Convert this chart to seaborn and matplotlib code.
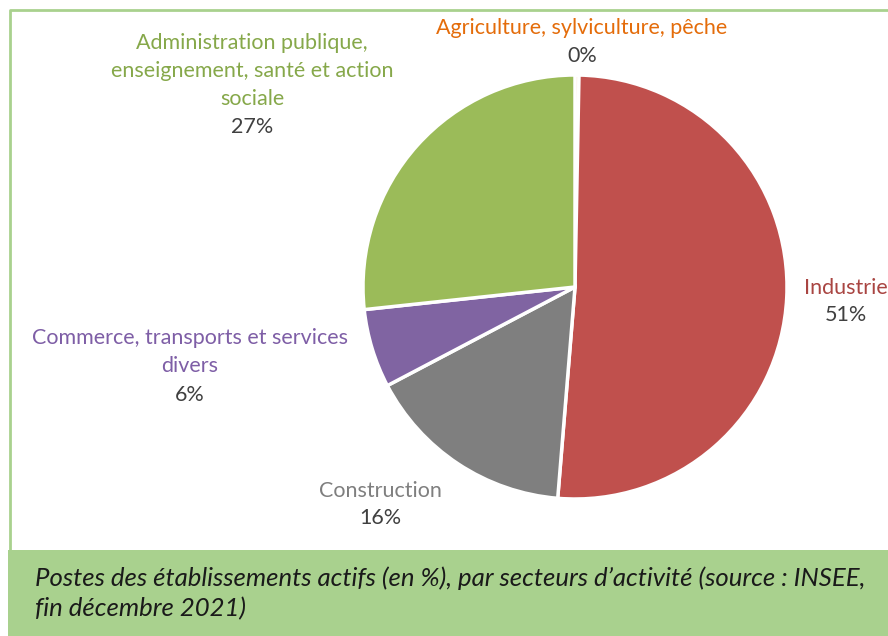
import matplotlib
matplotlib.use("Agg")
import matplotlib.pyplot as plt
import seaborn as sns
from matplotlib.patches import Rectangle

# Data
sectors = ["Agriculture, sylviculture, pêche", "Industrie", "Construction",
           "Commerce, transports et services\ndivers",
           "Administration publique,\nenseignement, santé et action\nsociale"]
shares = [0.3, 51.0, 16.0, 6.0, 26.7]
pct_labels = ["0%", "51%", "16%", "6%", "27%"]
caption = ("Postes des établissements actifs (en %), par secteurs d’activité (source : INSEE,\n"
           "fin décembre 2021)")

slice_colors = ["#F79646", "#C0504D", "#7F7F7F", "#8064A2", "#9BBB59"]
label_colors = ["#E46C0A", "#A94542", "#7F7F7F", "#7E5EA6", "#86A84A"]

sns.set_theme(style="white")
plt.rcParams["font.family"] = ["Lato", "DejaVu Sans"]

W, H = 888, 636
fig = plt.figure(figsize=(W / 100, H / 100), dpi=100)
ax = fig.add_axes([0, 0, 1, 1])
ax.set_aspect("equal")
ax.axis("off")

# frame of the chart area
ax.plot([10, 10, W + 5], [H - 550, H - 10, H - 10], color="#A9D18E", lw=2, zorder=1)

ax.pie(shares, colors=slice_colors, startangle=90, counterclock=False,
       center=(575, H - 287), radius=212,
       wedgeprops=dict(edgecolor="white", linewidth=2.5))
ax.set_xlim(0, W)
ax.set_ylim(0, H)

# label positions (pixel centres of the name block, and of the percentage)
name_pos = [(582, 28), (846, 288), (380, 491), (190, 352), (252, 71)]
pct_pos = [(582, 56), (846, 315), (380, 518), (190, 395), (252, 127)]
for name, pct, col, (nx, ny), (px, py) in zip(sectors, pct_labels, label_colors, name_pos, pct_pos):
    ax.text(nx, H - ny, name, color=col, fontsize=15.5, ha="center", va="center",
            linespacing=1.5)
    ax.text(px, H - py, pct, color="#404040", fontsize=15.5, ha="center", va="center")

# caption box
ax.add_patch(Rectangle((8, 0), W, H - 550, facecolor="#A9D18E", edgecolor="none", zorder=2))
ax.text(35, H - 593, caption, fontsize=18.5, style="italic", color="#1a1a1a",
        ha="left", va="center", linespacing=1.35, zorder=3)

fig.savefig("out.png", dpi=100)
